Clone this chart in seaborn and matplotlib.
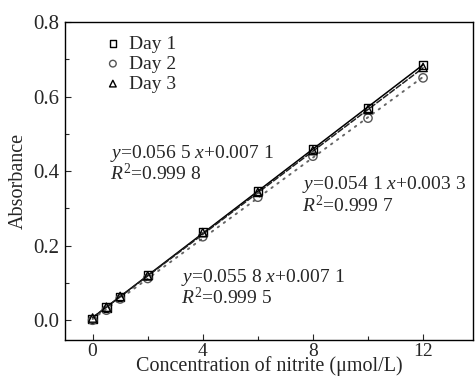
import numpy as np
import pandas as pd
import matplotlib
matplotlib.use('Agg')
import matplotlib.pyplot as plt
import seaborn as sns

conc = [0, 0.5, 1, 2, 4, 6, 8, 10, 12]
day1 = [0.004, 0.034, 0.062, 0.121, 0.236, 0.347, 0.459, 0.570, 0.684]
day2 = [0.000, 0.027, 0.057, 0.112, 0.224, 0.330, 0.440, 0.542, 0.650]
day3 = [0.006, 0.035, 0.064, 0.119, 0.235, 0.343, 0.455, 0.565, 0.678]

days = ['Day 1', 'Day 2', 'Day 3']
slopes = [0.0565, 0.0541, 0.0558]
intercepts = [0.0071, 0.0033, 0.0071]
eq_labels = [('$y$=0.056 5 $x$+0.007 1', '$R^2$=0.999 8'),
             ('$y$=0.054 1 $x$+0.003 3', '$R^2$=0.999 7'),
             ('$y$=0.055 8 $x$+0.007 1', '$R^2$=0.999 5')]

df = pd.DataFrame({'conc': conc * 3,
                   'abs': day1 + day2 + day3,
                   'day': np.repeat(days, len(conc))})

sns.set_style('ticks')
plt.rcParams['font.family'] = ['Liberation Serif', 'DejaVu Serif']
plt.rcParams['mathtext.fontset'] = 'custom'
plt.rcParams['mathtext.rm'] = 'Liberation Serif'
plt.rcParams['mathtext.it'] = 'Liberation Serif:italic'
plt.rcParams['xtick.direction'] = 'in'
plt.rcParams['ytick.direction'] = 'in'

fig = plt.figure(figsize=(4.75, 3.78), dpi=100)
ax = fig.add_axes([0.137, 0.1005, 0.858, 0.8415])

# fitted lines: Day 1 solid, Day 2 dotted grey, Day 3 dashed
line_styles = ['-', (0, (0.8, 3)), '--']
line_colors = ['black', '#666666', '#222222']
line_widths = [1.1, 1.4, 1.1]
xs = np.array([conc[0], conc[-1]])
for k in range(3):
    ax.plot(xs, slopes[k] * xs + intercepts[k], ls=line_styles[k],
            color=line_colors[k], lw=line_widths[k], zorder=1,
            dash_capstyle='round')

marker_map = {'Day 1': 's', 'Day 2': 'o', 'Day 3': '^'}
edge_colors = {'Day 1': 'black', 'Day 2': '#555555', 'Day 3': 'black'}
for d in days:
    sub = df[df['day'] == d]
    sns.scatterplot(data=sub, x='conc', y='abs', marker=marker_map[d], s=36,
                    facecolor='none', edgecolor=edge_colors[d], linewidth=1.0,
                    label=d, ax=ax, zorder=3)

ax.set_xlim(-1, 13.8)
ax.set_ylim(-0.053, 0.8)
ax.set_xticks([0, 4, 8, 12])
ax.set_xticks([2, 6, 10], minor=True)
ax.set_yticks([0.0, 0.2, 0.4, 0.6, 0.8])
ax.set_yticks([0.1, 0.3, 0.5, 0.7], minor=True)
ax.set_yticklabels(['0.0', '0.2', '0.4', '0.6', '0.8'])
ax.tick_params(which='major', length=4, width=0.8, labelsize=15, pad=4)
ax.tick_params(axis='x', which='major', labelsize=14, pad=2)
ax.tick_params(which='minor', length=3, width=0.8)
for sp in ax.spines.values():
    sp.set_linewidth(1.0)
    sp.set_color('black')

ax.set_xlabel('Concentration of nitrite (μmol/L)', fontsize=14.5, labelpad=-3)
ax.set_ylabel('Absorbance', fontsize=14.5, labelpad=4)

eq_pos = [(0.62, 0.448), (7.6, 0.363), (3.2, 0.115)]
for (ex, ey), (l1, l2) in zip(eq_pos, eq_labels):
    ax.text(ex, ey, l1, fontsize=14, va='center', ha='left')
    ax.text(ex, ey - 0.055, l2, fontsize=14, va='center', ha='left')

leg = ax.legend(loc='upper left', bbox_to_anchor=(0.06, 0.995), frameon=False,
                fontsize=14, handletextpad=0.25, labelspacing=0.12,
                borderaxespad=0.2, handlelength=1.2, markerscale=0.8)

fig.savefig('out.png', dpi=100)
